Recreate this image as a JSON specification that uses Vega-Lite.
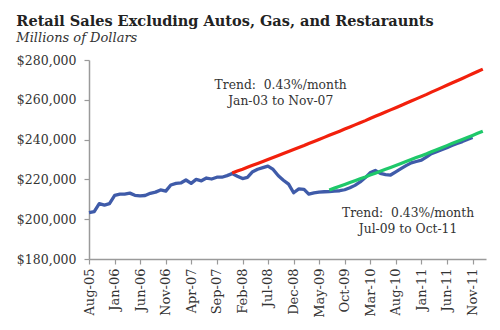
{
  "$schema": "https://vega.github.io/schema/vega-lite/v6.json",
  "width": 397,
  "height": 199,
  "autosize": "none",
  "padding": {"left": 89, "top": 60, "right": 14, "bottom": 71},
  "background": "white",
  "title": {
    "text": "Retail Sales Excluding Autos, Gas, and Restaraunts",
    "subtitle": "Millions of Dollars",
    "anchor": "start",
    "frame": "bounds",
    "font": "DejaVu Serif",
    "fontSize": 14.5,
    "fontWeight": "bold",
    "color": "#222222",
    "subtitleFont": "DejaVu Serif",
    "subtitleFontSize": 13,
    "subtitleFontStyle": "italic",
    "subtitleColor": "#333333",
    "subtitlePadding": 3,
    "offset": 8
  },
  "config": {
    "view": {"stroke": null},
    "axis": {
      "grid": false,
      "domainColor": "#9a9a9a",
      "domainWidth": 1.5,
      "tickColor": "#9a9a9a",
      "tickWidth": 1.2,
      "tickSize": 5,
      "labelFont": "DejaVu Serif",
      "labelColor": "#333333",
      "title": null
    }
  },
  "datasets": {
    "actual": [
      {"date": "2005-08-01", "value": 203300},
      {"date": "2005-09-01", "value": 203800},
      {"date": "2005-10-01", "value": 207800},
      {"date": "2005-11-01", "value": 207100},
      {"date": "2005-12-01", "value": 207800},
      {"date": "2006-01-01", "value": 212000},
      {"date": "2006-02-01", "value": 212600},
      {"date": "2006-03-01", "value": 212600},
      {"date": "2006-04-01", "value": 213100},
      {"date": "2006-05-01", "value": 212000},
      {"date": "2006-06-01", "value": 211700},
      {"date": "2006-07-01", "value": 211900},
      {"date": "2006-08-01", "value": 213000},
      {"date": "2006-09-01", "value": 213600},
      {"date": "2006-10-01", "value": 214700},
      {"date": "2006-11-01", "value": 214100},
      {"date": "2006-12-01", "value": 217200},
      {"date": "2007-01-01", "value": 218000},
      {"date": "2007-02-01", "value": 218300},
      {"date": "2007-03-01", "value": 219700},
      {"date": "2007-04-01", "value": 218000},
      {"date": "2007-05-01", "value": 220000},
      {"date": "2007-06-01", "value": 219300},
      {"date": "2007-07-01", "value": 220700},
      {"date": "2007-08-01", "value": 220200},
      {"date": "2007-09-01", "value": 221100},
      {"date": "2007-10-01", "value": 221100},
      {"date": "2007-11-01", "value": 221900},
      {"date": "2007-12-01", "value": 222900},
      {"date": "2008-01-01", "value": 221600},
      {"date": "2008-02-01", "value": 220400},
      {"date": "2008-03-01", "value": 221000},
      {"date": "2008-04-01", "value": 223900},
      {"date": "2008-05-01", "value": 225100},
      {"date": "2008-06-01", "value": 225900},
      {"date": "2008-07-01", "value": 226700},
      {"date": "2008-08-01", "value": 225000},
      {"date": "2008-09-01", "value": 221800},
      {"date": "2008-10-01", "value": 219600},
      {"date": "2008-11-01", "value": 217600},
      {"date": "2008-12-01", "value": 213300},
      {"date": "2009-01-01", "value": 215200},
      {"date": "2009-02-01", "value": 215000},
      {"date": "2009-03-01", "value": 212600},
      {"date": "2009-04-01", "value": 213200},
      {"date": "2009-05-01", "value": 213600},
      {"date": "2009-06-01", "value": 213800},
      {"date": "2009-07-01", "value": 213900},
      {"date": "2009-08-01", "value": 214100},
      {"date": "2009-09-01", "value": 214300},
      {"date": "2009-10-01", "value": 214800},
      {"date": "2009-11-01", "value": 215800},
      {"date": "2009-12-01", "value": 217000},
      {"date": "2010-01-01", "value": 218700},
      {"date": "2010-02-01", "value": 220900},
      {"date": "2010-03-01", "value": 223300},
      {"date": "2010-04-01", "value": 224500},
      {"date": "2010-05-01", "value": 223000},
      {"date": "2010-06-01", "value": 222400},
      {"date": "2010-07-01", "value": 222200},
      {"date": "2010-08-01", "value": 223800},
      {"date": "2010-09-01", "value": 225400},
      {"date": "2010-10-01", "value": 226900},
      {"date": "2010-11-01", "value": 228300},
      {"date": "2010-12-01", "value": 229000},
      {"date": "2011-01-01", "value": 229700},
      {"date": "2011-02-01", "value": 231300},
      {"date": "2011-03-01", "value": 232900},
      {"date": "2011-04-01", "value": 233900},
      {"date": "2011-05-01", "value": 234900},
      {"date": "2011-06-01", "value": 235900},
      {"date": "2011-07-01", "value": 237000},
      {"date": "2011-08-01", "value": 238000},
      {"date": "2011-09-01", "value": 239000},
      {"date": "2011-10-01", "value": 240100},
      {"date": "2011-11-01", "value": 241100}
    ],
    "trend1": [
      {"date": "2007-12-01", "value": 223200},
      {"date": "2008-01-01", "value": 224160},
      {"date": "2008-02-01", "value": 225120},
      {"date": "2008-03-01", "value": 226090},
      {"date": "2008-04-01", "value": 227060},
      {"date": "2008-05-01", "value": 228040},
      {"date": "2008-06-01", "value": 229020},
      {"date": "2008-07-01", "value": 230010},
      {"date": "2008-08-01", "value": 230990},
      {"date": "2008-09-01", "value": 231990},
      {"date": "2008-10-01", "value": 232990},
      {"date": "2008-11-01", "value": 233990},
      {"date": "2008-12-01", "value": 234990},
      {"date": "2009-01-01", "value": 236000},
      {"date": "2009-02-01", "value": 237020},
      {"date": "2009-03-01", "value": 238040},
      {"date": "2009-04-01", "value": 239060},
      {"date": "2009-05-01", "value": 240090},
      {"date": "2009-06-01", "value": 241120},
      {"date": "2009-07-01", "value": 242160},
      {"date": "2009-08-01", "value": 243200},
      {"date": "2009-09-01", "value": 244250},
      {"date": "2009-10-01", "value": 245300},
      {"date": "2009-11-01", "value": 246350},
      {"date": "2009-12-01", "value": 247410},
      {"date": "2010-01-01", "value": 248470},
      {"date": "2010-02-01", "value": 249540},
      {"date": "2010-03-01", "value": 250620},
      {"date": "2010-04-01", "value": 251690},
      {"date": "2010-05-01", "value": 252780},
      {"date": "2010-06-01", "value": 253860},
      {"date": "2010-07-01", "value": 254950},
      {"date": "2010-08-01", "value": 256050},
      {"date": "2010-09-01", "value": 257150},
      {"date": "2010-10-01", "value": 258250},
      {"date": "2010-11-01", "value": 259370},
      {"date": "2010-12-01", "value": 260480},
      {"date": "2011-01-01", "value": 261600},
      {"date": "2011-02-01", "value": 262730},
      {"date": "2011-03-01", "value": 263860},
      {"date": "2011-04-01", "value": 264990},
      {"date": "2011-05-01", "value": 266130},
      {"date": "2011-06-01", "value": 267270},
      {"date": "2011-07-01", "value": 268420},
      {"date": "2011-08-01", "value": 269580},
      {"date": "2011-09-01", "value": 270740},
      {"date": "2011-10-01", "value": 271900},
      {"date": "2011-11-01", "value": 273070},
      {"date": "2011-12-01", "value": 274250},
      {"date": "2012-01-01", "value": 275420}
    ],
    "trend2": [
      {"date": "2009-07-01", "value": 214700},
      {"date": "2009-08-01", "value": 215620},
      {"date": "2009-09-01", "value": 216550},
      {"date": "2009-10-01", "value": 217480},
      {"date": "2009-11-01", "value": 218420},
      {"date": "2009-12-01", "value": 219360},
      {"date": "2010-01-01", "value": 220300},
      {"date": "2010-02-01", "value": 221250},
      {"date": "2010-03-01", "value": 222200},
      {"date": "2010-04-01", "value": 223150},
      {"date": "2010-05-01", "value": 224110},
      {"date": "2010-06-01", "value": 225080},
      {"date": "2010-07-01", "value": 226040},
      {"date": "2010-08-01", "value": 227020},
      {"date": "2010-09-01", "value": 227990},
      {"date": "2010-10-01", "value": 228970},
      {"date": "2010-11-01", "value": 229960},
      {"date": "2010-12-01", "value": 230950},
      {"date": "2011-01-01", "value": 231940},
      {"date": "2011-02-01", "value": 232940},
      {"date": "2011-03-01", "value": 233940},
      {"date": "2011-04-01", "value": 234940},
      {"date": "2011-05-01", "value": 235950},
      {"date": "2011-06-01", "value": 236970},
      {"date": "2011-07-01", "value": 237990},
      {"date": "2011-08-01", "value": 239010},
      {"date": "2011-09-01", "value": 240040},
      {"date": "2011-10-01", "value": 241070},
      {"date": "2011-11-01", "value": 242110},
      {"date": "2011-12-01", "value": 243150},
      {"date": "2012-01-01", "value": 244190}
    ],
    "notes": [
      {"date": "2008-09-15", "value": 265400, "label": "Trend:\u00a0 0.43%/month"},
      {"date": "2008-09-15", "value": 257400, "label": "Jan-03 to Nov-07"},
      {"date": "2010-10-13", "value": 201100, "label": "Trend:\u00a0 0.43%/month"},
      {"date": "2010-10-13", "value": 193100, "label": "Jul-09 to Oct-11"}
    ]
  },
  "encoding": {
    "x": {
      "field": "date",
      "type": "temporal",
      "timeUnit": "utcyearmonthdate",
      "scale": {"domain": [{"year": 2005, "month": 8, "date": 1, "utc": true}, {"year": 2012, "month": 1, "date": 20, "utc": true}]},
      "axis": {
        "format": "%b-%y",
        "labelAngle": -90,
        "labelFontSize": 13,
        "labelPadding": 4,
        "values": [
          {"year": 2005, "month": 8, "date": 1, "utc": true},
          {"year": 2006, "month": 1, "date": 1, "utc": true},
          {"year": 2006, "month": 6, "date": 1, "utc": true},
          {"year": 2006, "month": 11, "date": 1, "utc": true},
          {"year": 2007, "month": 4, "date": 1, "utc": true},
          {"year": 2007, "month": 9, "date": 1, "utc": true},
          {"year": 2008, "month": 2, "date": 1, "utc": true},
          {"year": 2008, "month": 7, "date": 1, "utc": true},
          {"year": 2008, "month": 12, "date": 1, "utc": true},
          {"year": 2009, "month": 5, "date": 1, "utc": true},
          {"year": 2009, "month": 10, "date": 1, "utc": true},
          {"year": 2010, "month": 3, "date": 1, "utc": true},
          {"year": 2010, "month": 8, "date": 1, "utc": true},
          {"year": 2011, "month": 1, "date": 1, "utc": true},
          {"year": 2011, "month": 6, "date": 1, "utc": true},
          {"year": 2011, "month": 11, "date": 1, "utc": true}
        ]
      }
    },
    "y": {
      "field": "value",
      "type": "quantitative",
      "scale": {"domain": [180000, 280000], "nice": false, "zero": false},
      "axis": {
        "values": [180000, 200000, 220000, 240000, 260000, 280000],
        "format": "$,.0f",
        "labelFontSize": 12.5,
        "labelPadding": 8
      }
    }
  },
  "layer": [
    {
      "data": {"name": "actual"},
      "mark": {"type": "line", "color": "#3f5ba9", "strokeWidth": 3.3, "strokeJoin": "round"}
    },
    {
      "data": {"name": "trend1"},
      "mark": {"type": "line", "color": "#f2200c", "strokeWidth": 3.2}
    },
    {
      "data": {"name": "trend2"},
      "mark": {"type": "line", "color": "#1ec86a", "strokeWidth": 3.2}
    },
    {
      "data": {"name": "notes"},
      "mark": {"type": "text", "font": "DejaVu Serif", "fontSize": 12.3, "color": "#333333", "align": "center", "baseline": "alphabetic"},
      "encoding": {"text": {"field": "label"}}
    }
  ]
}
